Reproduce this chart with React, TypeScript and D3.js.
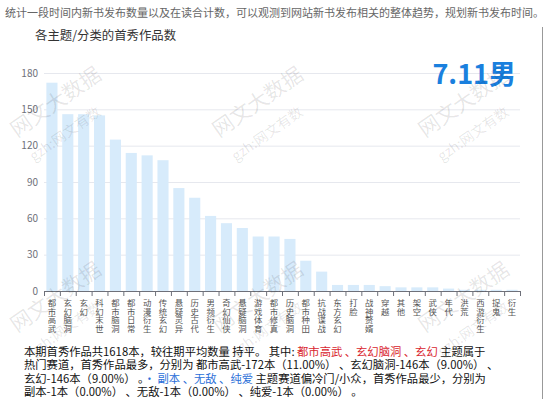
import React from "react";
import * as d3 from "d3";

const categories = [
  "都市高武", "玄幻脑洞", "玄幻", "科幻末世", "都市脑洞", "都市日常", "动漫衍生", "传统玄幻",
  "悬疑灵异", "历史古代", "男频衍生", "奇幻仙侠", "悬疑脑洞", "游戏体育", "都市修真", "历史脑洞",
  "都市种田", "抗战谍战", "东方玄幻", "打脸", "战神赘婿", "穿越", "其他", "架空",
  "武侠", "年代", "洪荒", "西游衍生", "捉鬼", "衍生",
];
const values = [
  172, 146, 146, 145, 125, 114, 112, 108,
  85, 77, 62, 56, 52, 45, 45, 43,
  25, 16, 5, 5, 5, 4, 3, 3,
  3, 2, 1, 1, 1, 1,
];
const yTicks = [0, 30, 60, 90, 120, 150, 180];

const introText =
  "统计一段时间内新书发布数量以及在读合计数，可以观测到网站新书发布相关的整体趋势，规划新书发布时间。";
const chartTitle = "各主题/分类的首秀作品数";
const badge = "7.11男";

// paragraph under the chart: [text, kind]
const summaryLines: [string, string][][] = [
  [["本期首秀作品共1618本，较往期平均数量 持平。 其中: ", "n"], ["都市高武 、玄幻脑洞 、玄幻", "r"], [" 主题属于", "n"]],
  [["热门赛道，首秀作品最多，分别为 都市高武-172本（11.00%） 、玄幻脑洞-146本（9.00%） 、", "n"]],
  [["玄幻-146本（9.00%） 。", "n"], ["· 副本 、无敌 、纯爱", "b"], [" 主题赛道偏冷门/小众，首秀作品最少，分别为", "n"]],
  [["副本-1本（0.00%） 、无敌-1本（0.00%） 、纯爱-1本（0.00%） 。", "n"]],
];

const wmCols = [60, 262, 468];
const wmRows = [108, 303];

const W = 545;
const H = 399;
const FONT = "'Noto Sans CJK SC', 'Noto Sans', sans-serif";
const kindColor: Record<string, string> = { n: "#111", r: "#d9252e", b: "#2b6fd8" };

const App: React.FC = () => {
  const x = d3.scaleBand<string>().domain(categories).range([44, 520]).paddingInner(0.3).paddingOuter(0.15);
  const y = d3.scaleLinear().domain([0, 180]).range([291, 73]);
  const step = x.step();

  return (
    <svg
      width={W}
      height={H}
      style={{ position: "absolute", left: 0, top: 0, background: "#fff" }}
      fontFamily={FONT}
    >
      <text x={5} y={17} fontSize={11} fill="#666">{introText}</text>
      <line x1={542.5} x2={542.5} y1={27} y2={H} stroke="#999" strokeWidth={1} />
      <text x={35} y={40} fontSize={12.4} fill="#333">{chartTitle}</text>

      {/* grid + y labels */}
      {yTicks.map((t) => (
        <g key={t}>
          {t > 0 && <line x1={44} x2={520} y1={y(t) + 0.5} y2={y(t) + 0.5} stroke="#e6e8ee" />}
          <text x={38} y={y(t) + 3.5} fontSize={10} fill="#6e7079" textAnchor="end">{t}</text>
        </g>
      ))}

      {/* bars */}
      {categories.map((c, i) => (
        <rect
          key={c}
          x={x(c)!}
          y={y(values[i])}
          width={x.bandwidth()}
          height={y(0) - y(values[i])}
          fill="#d7ebfb"
        />
      ))}

      {/* x axis */}
      <line x1={44} x2={520} y1={291.5} y2={291.5} stroke="#6e7079" />
      {d3.range(categories.length + 1).map((i) => (
        <line key={i} x1={44 + i * step + 0.5} x2={44 + i * step + 0.5} y1={291} y2={296} stroke="#6e7079" />
      ))}
      {categories.map((c) => (
        <text
          key={c}
          x={x(c)! + x.bandwidth() / 2}
          y={299}
          fontSize={8.4}
          fill="#555"
          style={{ writingMode: "vertical-rl", textOrientation: "upright" }}
        >
          {c}
        </text>
      ))}

      <text x={516} y={84} fontSize={27} fontWeight="bold" fill="#1a80de" textAnchor="end">{badge}</text>

      {/* summary paragraph */}
      {summaryLines.map((segs, li) => (
        <text key={li} x={24} y={356 + li * 13.4} fontSize={11.3}>
          {segs.map(([t, k], si) => (
            <tspan key={si} fill={kindColor[k]}>{t}</tspan>
          ))}
        </text>
      ))}

      {/* watermarks */}
      <g pointerEvents="none" fill="#000" fillOpacity={0.1}>
        {wmRows.map((wy) =>
          wmCols.map((wx) => (
            <g key={`${wx}-${wy}`}>
              <text x={wx} y={wy} fontSize={21} textAnchor="middle" transform={`rotate(-35 ${wx} ${wy})`}>网文大数据</text>
              <text x={wx + 8} y={wy + 30} fontSize={14} textAnchor="middle" transform={`rotate(-35 ${wx + 8} ${wy + 30})`}>gzh:网文有数</text>
            </g>
          ))
        )}
      </g>
    </svg>
  );
};

export default App;
